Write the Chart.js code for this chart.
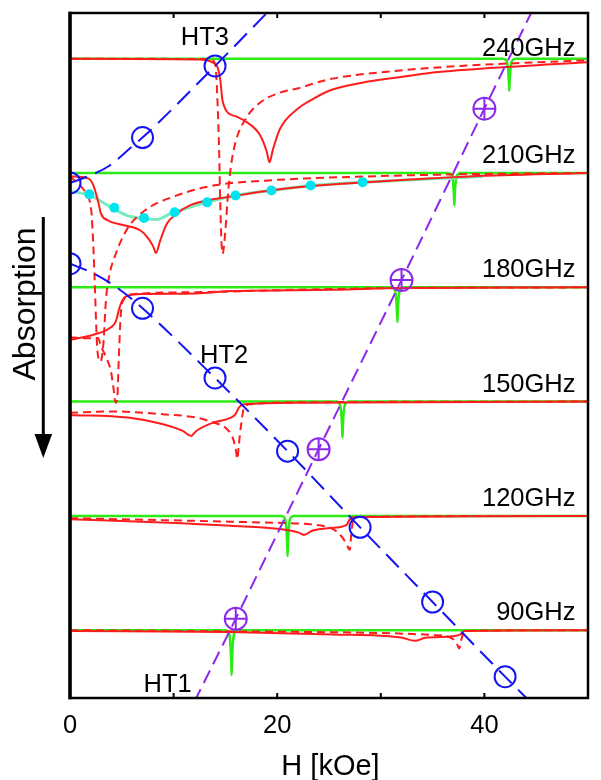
<!DOCTYPE html>
<html>
<head>
<meta charset="utf-8">
<script src="https://cdn.jsdelivr.net/npm/chart.js@4.4.1/dist/chart.umd.min.js"></script>
<style>
  html, body { margin: 0; padding: 0; background: #fff; overflow: hidden; }
  canvas { display: block; }
</style>
</head>
<body>
<canvas id="esr" width="601" height="780"></canvas>
<script>
// ---- Field axis ----
const fieldTicks = [0, 10, 20, 30, 40, 50];
const fieldTickLabels = [0, 20, 40];
const fieldTitle = 'H [kOe]';

// ---- Microwave frequencies (GHz); each spectrum is offset to its frequency level ----
const frequencies = [240, 210, 180, 150, 120, 90];

// Spectra: [H (kOe), absorption offset from the frequency level]
// solid red traces
const solid240 = [[0,0],[12.3,-0.2],[13.8,-1.0],[14.25,-2.3],[14.5,-5.4],[14.7,-10.6],[14.86,-12.3],[15.2,-14.1],[16.1,-15.2],[17.1,-16.7],[18.35,-20.1],[19.0,-24.5],[19.25,-27.2],[19.6,-23.7],[20.25,-18.5],[21.95,-13.2],[23.45,-10.6],[25.0,-8.4],[28.2,-6.3],[31.4,-5.0],[34.55,-3.8],[40.9,-2.4],[50,-0.9]];
const solid210 = [[0,-0.9],[1.73,-1.4],[2.21,-2.9],[2.69,-7.2],[3.0,-10.7],[3.64,-12.4],[5.22,-13.7],[6.81,-15.1],[7.57,-17.2],[8.05,-19.4],[8.3,-21.0],[8.71,-17.7],[9.35,-13.3],[10.3,-10.7],[11.57,-8.5],[15.48,-6.2],[20.43,-4.2],[28.67,-2.4],[38.52,-0.9],[50,0]];
const solid180 = [[0,-13.8],[2.33,-12.4],[3.95,-10.5],[4.43,-8.9],[4.74,-5.7],[5.07,-3.3],[5.54,-2.2],[7.12,-1.75],[12.19,-1.6],[15.48,-1.0],[25.38,-0.65],[31.95,-0.2],[50,0]];
const solid150 = [[0,-3.5],[5.59,-4.2],[8.9,-5.9],[10.87,-7.7],[11.7,-9.0],[12.19,-7.7],[13.84,-5.5],[15.48,-4.3],[15.98,-3.3],[16.3,-1.6],[16.81,-0.7],[22.05,-0.3],[50,0]];
const solid120 = [[0,-0.9],[8.9,-1.75],[15.48,-2.6],[20.43,-3.5],[22.08,-4.4],[22.57,-5.0],[23.38,-3.9],[25.38,-3.1],[26.7,-2.35],[27.0,-0.9],[27.67,-0.3],[50,0]];
const solid90  = [[0,-0.2],[15.48,-0.45],[25.38,-1.1],[31.95,-1.9],[33.29,-2.8],[34.28,-2.0],[36.9,-1.6],[37.73,-1.05],[38.05,-0.2],[50,0]];

// dashed red traces
const dashed240 = [[0,0],[13.5,-0.1],[13.9,-0.8],[14.08,-2.8],[14.24,-11.5],[14.4,-24.6],[14.5,-37.6],[14.62,-48.1],[14.74,-51.2],[14.9,-48.1],[15.1,-41.5],[15.19,-37.6],[15.5,-28.9],[15.98,-21.9],[16.93,-15.9],[18.36,-11.5],[20.27,-8.9],[21.95,-7.8],[25.03,-5.4],[31.38,-3.2],[37.7,-1.9],[50,-0.4]];
const dashed210 = [[0,-0.9],[1.26,-4.2],[2.05,-9.8],[2.27,-20.3],[2.37,-27.3],[2.5,-37.8],[2.62,-45.6],[2.78,-49.0],[2.95,-49.5],[3.15,-46.9],[3.25,-43.8],[3.47,-33.3],[3.78,-27.1],[4.42,-21.2],[5.54,-14.6],[7.24,-9.8],[9.88,-6.3],[13.84,-3.3],[18.78,-2.0],[28.67,-0.9],[38.5,-0.3],[50,0]];
const dashed180 = [[0,-13.1],[1.86,-13.4],[2.7,-13.3],[3.0,-15.5],[3.5,-18.5],[3.95,-22.0],[4.2,-26.5],[4.4,-30.3],[4.55,-29.5],[4.72,-18.0],[4.9,-7.1],[5.22,-3.1],[5.86,-1.9],[11.57,-1.3],[21.86,-0.65],[31.38,-0.2],[50,0]];
const dashed150 = [[0,-2.9],[4.24,-2.6],[8.9,-3.3],[12.19,-4.2],[13.84,-5.5],[15.15,-7.2],[15.81,-10.3],[16.05,-13.4],[16.14,-15.1],[16.29,-11.6],[16.48,-6.8],[16.81,-1.6],[17.46,-0.7],[21.86,-0.2],[50,0]];
const dashed120 = [[0,-0.6],[8.9,-1.1],[18.78,-1.75],[24.71,-2.8],[26.03,-4.8],[26.7,-7.4],[27.0,-8.9],[27.14,-5.2],[27.29,-1.6],[27.57,-0.3],[50,0]];
const dashed90  = [[0,0],[22.08,-0.45],[35.27,-1.3],[36.9,-2.2],[37.4,-3.9],[37.57,-4.8],[37.76,-2.6],[37.9,-1.3],[38.05,-0.2],[50,0]];

// narrow green lines
const narrow240 = [[0,0],[41.8,0],[42.05,-0.3],[42.2,-1.1],[42.3,-3.2],[42.36,-6.0],[42.4,-8.4],[42.44,-6.0],[42.5,-3.2],[42.6,-1.1],[42.75,-0.3],[43.0,0],[50,0]];
const narrow210 = [[0,0],[36.5,0],[36.75,-0.3],[36.9,-1.1],[37.0,-3.2],[37.06,-6.0],[37.1,-8.5],[37.14,-6.0],[37.2,-3.2],[37.3,-1.1],[37.45,-0.3],[37.7,0],[50,0]];
const narrow180 = [[0,0],[31.0,0],[31.25,-0.3],[31.4,-1.2],[31.5,-3.4],[31.56,-6.4],[31.6,-9.1],[31.64,-6.4],[31.7,-3.4],[31.8,-1.2],[31.95,-0.3],[32.2,0],[50,0]];
const narrow150 = [[0,0],[25.7,0],[25.95,-0.3],[26.1,-1.2],[26.2,-3.5],[26.26,-6.6],[26.3,-9.4],[26.34,-6.6],[26.4,-3.5],[26.5,-1.2],[26.65,-0.3],[26.9,0],[50,0]];
const narrow120 = [[0,0],[20.4,0],[20.65,-0.3],[20.8,-1.3],[20.9,-3.9],[20.96,-7.3],[21.0,-10.5],[21.04,-7.3],[21.1,-3.9],[21.2,-1.3],[21.35,-0.3],[21.6,0],[50,0]];
const narrow90  = [[0,0],[15.0,0],[15.25,-0.3],[15.4,-1.4],[15.5,-4.4],[15.56,-8.2],[15.6,-11.8],[15.64,-8.2],[15.7,-4.4],[15.8,-1.4],[15.95,-0.3],[16.2,0],[50,0]];

// 210 GHz: dots and smooth curve through them
const dots210 = [[1.87,-5.6],[4.28,-9.1],[7.14,-11.8],[10.1,-10.3],[13.24,-7.7],[15.98,-5.9],[19.44,-4.6],[23.23,-3.3],[28.24,-2.4]];
const curve210 = [[0,-4.8],[1.86,-5.8],[4.21,-9.4],[5.48,-11.1],[7.12,-12.0],[8.4,-12.2],[9.67,-10.7],[11.57,-9.0],[13.17,-7.7],[15.98,-5.9],[19.44,-4.6],[23.23,-3.3],[28.24,-2.4],[39.88,-0.9]];

// Resonance branches: [H (kOe), frequency (GHz)]
const ht3Points = [[0,207.4],[7,219.3],[14,238.1]];
const ht3Line   = [[0,207.4],[1.7,209.1],[3.8,211.9],[6.0,217.0],[7,219.3],[14,238.1],[19.0,252.0],[19.5,253.4]];
const ht2Points = [[0,186.2],[7,174.5],[14,156.2],[21,137.0],[28,117.0],[35,97.4],[42,77.8]];
const ht2Line   = [[0,186.2],[2.3,183.6],[4.5,180.0],[7,174.5],[14,156.2],[21,137.0],[28,117.0],[35,97.4],[42,77.8],[44.5,71.0]];
const ht1Points = [[16,93.0],[24,137.5],[32,181.9],[40,226.9]];
const ht1Line   = [[12.0,71.2],[16,93.0],[24,137.5],[32,181.9],[40,226.9],[44.6,252.5]];

// ---- colours ----
const RED = 'rgb(255,28,28)';
const GREEN = 'rgb(45,235,20)';
const BLUE = 'rgb(20,20,245)';
const PURPLE = 'rgb(140,40,235)';
const CYAN = 'rgb(0,228,240)';
const MINT = 'rgb(120,236,190)';

const FONT = '"Liberation Sans", Arial, Helvetica, sans-serif';
Chart.defaults.font.family = FONT;
Chart.defaults.color = '#000';

const toXY = (pts, offset = 0) => pts.map(([h, v]) => ({ x: h, y: offset + v }));

const spectra = {
  240: [solid240, dashed240, narrow240],
  210: [solid210, dashed210, narrow210],
  180: [solid180, dashed180, narrow180],
  150: [solid150, dashed150, narrow150],
  120: [solid120, dashed120, narrow120],
  90:  [solid90,  dashed90,  narrow90]
};

const datasets = [];

// branch markers (drawn on top)
datasets.push({ data: toXY(ht1Points), showLine: false, pointStyle: 'cross', pointRadius: 11,
  pointBorderColor: PURPLE, pointBorderWidth: 2, order: 0 });
datasets.push({ data: toXY(ht1Points), showLine: false, pointStyle: 'circle', pointRadius: 11,
  pointBackgroundColor: 'rgba(0,0,0,0)', pointBorderColor: PURPLE, pointBorderWidth: 2, order: 0 });
datasets.push({ data: toXY(ht2Points), showLine: false, pointStyle: 'circle', pointRadius: 10.5,
  pointBackgroundColor: 'rgba(0,0,0,0)', pointBorderColor: BLUE, pointBorderWidth: 2, clip: 0, order: 0 });
datasets.push({ data: toXY(ht3Points), showLine: false, pointStyle: 'circle', pointRadius: 10.5,
  pointBackgroundColor: 'rgba(0,0,0,0)', pointBorderColor: BLUE, pointBorderWidth: 2, clip: 0, order: 0 });

// branch lines
const branchLine = (pts, color, dash, smooth) => ({
  data: toXY(pts), showLine: true, pointRadius: 0, borderColor: color, borderWidth: 2,
  borderDash: dash, cubicInterpolationMode: smooth ? 'monotone' : 'default', tension: 0, order: 1
});
datasets.push(branchLine(ht1Line, PURPLE, [14, 7], false));
datasets.push(branchLine(ht2Line, BLUE, [18, 9], true));
datasets.push(branchLine(ht3Line, BLUE, [18, 9], true));

// 210 GHz dots and curve
datasets.push({ data: toXY(dots210, 210), showLine: false, pointStyle: 'circle', pointRadius: 5,
  pointBackgroundColor: CYAN, pointBorderColor: CYAN, pointBorderWidth: 0, order: 2 });
datasets.push({ data: toXY(curve210, 210), showLine: true, pointRadius: 0, borderColor: MINT,
  borderWidth: 3, cubicInterpolationMode: 'monotone', order: 5 });

// spectra
frequencies.forEach(f => {
  const [solid, dashed, narrow] = spectra[f];
  datasets.push({ data: toXY(solid, f), showLine: true, pointRadius: 0, borderColor: RED,
    borderWidth: 2, cubicInterpolationMode: 'monotone', order: 3 });
  datasets.push({ data: toXY(dashed, f), showLine: true, pointRadius: 0, borderColor: RED,
    borderWidth: 2, borderDash: [8, 5], cubicInterpolationMode: 'monotone', order: 4 });
  datasets.push({ data: toXY(narrow, f), showLine: true, pointRadius: 0, borderColor: GREEN,
    borderWidth: 2.5, cubicInterpolationMode: 'monotone', order: 6 });
});

// frame, field axis labels, level labels, branch names and the absorption arrow
const decorations = {
  id: 'decorations',
  afterDraw(chart) {
    const { ctx, chartArea: a, scales: { x, y } } = chart;
    ctx.save();
    ctx.strokeStyle = '#000';
    ctx.fillStyle = '#000';

    ctx.lineWidth = 2.5;
    ctx.strokeRect(a.left, a.top, a.right - a.left, a.bottom - a.top);
    ctx.lineWidth = 3.5;
    ctx.beginPath();
    ctx.moveTo(a.left, a.top - 1.25);
    ctx.lineTo(a.left, a.bottom + 1.25);
    ctx.stroke();

    // inward tick marks on top and bottom edges
    ctx.lineWidth = 2;
    fieldTicks.forEach(v => {
      if (v <= x.min || v >= x.max) return;
      const px = x.getPixelForValue(v);
      ctx.beginPath();
      ctx.moveTo(px, a.bottom); ctx.lineTo(px, a.bottom - 5);
      ctx.moveTo(px, a.top); ctx.lineTo(px, a.top + 5);
      ctx.stroke();
    });

    // field tick labels and axis title
    ctx.textBaseline = 'alphabetic';
    ctx.textAlign = 'center';
    ctx.font = '25.5px ' + FONT;
    fieldTickLabels.forEach(v => ctx.fillText(String(v), x.getPixelForValue(v), a.bottom + 35));
    ctx.font = '29px ' + FONT;
    ctx.fillText(fieldTitle, (a.left + a.right) / 2 + 1.5, a.bottom + 77);

    // frequency labels
    ctx.font = '25.5px ' + FONT;
    ctx.textAlign = 'right';
    frequencies.forEach(f => {
      const py = y.getPixelForValue(f) - (f === 240 ? 3 : 10);
      ctx.fillText(f + 'GHz', a.right - 12.5, py);
    });

    // branch names
    ctx.textAlign = 'left';
    ctx.fillText('HT3', x.getPixelForValue(10.7), y.getPixelForValue(243.7));
    ctx.fillText('HT2', x.getPixelForValue(12.55), y.getPixelForValue(160.1));
    ctx.fillText('HT1', x.getPixelForValue(7.1), y.getPixelForValue(73.9));

    // vertical "Absorption" label with downward arrow
    ctx.save();
    ctx.translate(35, 304);
    ctx.rotate(-Math.PI / 2);
    ctx.textAlign = 'center';
    ctx.font = '32px ' + FONT;
    ctx.fillText('Absorption', 0, 0);
    ctx.restore();

    ctx.lineWidth = 3;
    ctx.beginPath();
    ctx.moveTo(43.3, 217);
    ctx.lineTo(43.3, 440);
    ctx.stroke();
    ctx.beginPath();
    ctx.moveTo(43.3, 458);
    ctx.lineTo(34.5, 434);
    ctx.lineTo(52.1, 434);
    ctx.closePath();
    ctx.fill();

    ctx.restore();
  }
};

new Chart(document.getElementById('esr'), {
  type: 'scatter',
  data: { datasets },
  options: {
    responsive: false,
    animation: false,
    devicePixelRatio: 1,
    layout: { padding: { left: 70, right: 7, top: 10, bottom: 82 } },
    plugins: { legend: { display: false }, tooltip: { enabled: false } },
    scales: {
      x: { type: 'linear', display: false, min: 0, max: 50 },
      y: { type: 'linear', display: false, min: 72.2, max: 252 }
    }
  },
  plugins: [decorations]
});
</script>
</body>
</html>
